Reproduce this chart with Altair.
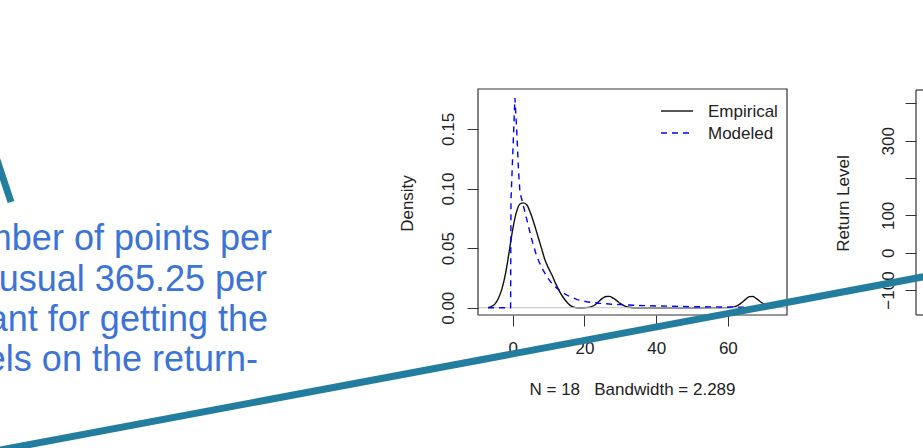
import altair as alt
import pandas as pd

# ---------------- data ----------------
# Empirical kernel density (black, solid)
emp_x = [-6.9, -6, -5, -4, -3, -2, -1, 0, 1, 2, 3, 4, 5, 6, 7, 8, 9, 10, 11, 12,
         13, 14, 15, 16, 17, 18, 20, 21, 22, 23, 24, 25, 26, 27, 28, 29, 30, 31,
         32, 33, 34, 40, 50, 60, 61, 62, 63, 64, 65, 66, 67, 68, 69, 70, 71, 72, 73.3]
emp_y = [0.0, 0.001, 0.003, 0.008, 0.016, 0.029, 0.047, 0.066, 0.080, 0.087,
         0.088, 0.086, 0.079, 0.070, 0.060, 0.050, 0.040, 0.033, 0.027, 0.020,
         0.014, 0.009, 0.005, 0.002, 0.0005, 0.0, 0.0, 0.0003, 0.001, 0.0025,
         0.0052, 0.0078, 0.0094, 0.0095, 0.0080, 0.0060, 0.0036, 0.0018, 0.0007,
         0.0002, 0.0, 0.0, 0.0, 0.0001, 0.0003, 0.001, 0.0024, 0.0046, 0.0072,
         0.0093, 0.0094, 0.0076, 0.0052, 0.0030, 0.0014, 0.0005, 0.0001]

# Modeled density (blue, dashed)
mod_x = [-6.9, -0.6, -0.5, 0.6, 1.1, 1.6, 2.0, 3.0, 4.4, 5.5, 6.7, 8.0, 9.5, 11.0,
         12.3, 14.0, 16.0, 18.0, 20.6, 24.0, 27.0, 30.0, 35.0, 40.0, 50.0, 60.0,
         70.0, 73.3]
mod_y = [0.0, 0.0, 0.090, 0.176, 0.149, 0.115, 0.097, 0.085, 0.068, 0.055, 0.043,
         0.034, 0.026, 0.020, 0.0163, 0.0125, 0.0092, 0.0068, 0.0050, 0.0038,
         0.0031, 0.0026, 0.0019, 0.0015, 0.0009, 0.0006, 0.0004, 0.0003]

x_ticks = [0, 20, 40, 60]
y_ticks = [0.0, 0.05, 0.10, 0.15]
rl_ticks = [-100, 0, 100, 200, 300, 400]
legend_labels = ["Empirical", "Modeled"]
sub_title = "N = 18\u00a0\u00a0\u00a0Bandwidth = 2.289"
density_title = "Density"
rl_title = "Return Level"
note_lines = ["number of points per", "the usual 365.25 per",
              "important for getting the", "levels on the return-"]

# ---------------- styling ----------------
RFONT = "Liberation Sans"
TXT = "#222222"
TEAL = "#227d9f"
NOTE_BLUE = "#3b74d6"

emp_df = pd.DataFrame({"x": emp_x, "y": emp_y})
mod_df = pd.DataFrame({"x": mod_x, "y": mod_y})
one = pd.DataFrame({"a": [0]})


def x_sc():
    return alt.Scale(domain=[-9.7, 76.5], range=[478, 787], nice=False, zero=False)


def y_sc():
    return alt.Scale(domain=[-0.0061, 0.1835], range=[315, 89], nice=False, zero=False)


rl_sc = alt.Scale(domain=[-167, 436], range=[315, 90], nice=False, zero=False)


def x_axis():
    return alt.Axis(values=x_ticks, format="d", orient="bottom", offset=-133,
                    tickSize=11, labelPadding=14, labelBaseline="top",
                    title=sub_title, titleX=632, titleY=83, titleAlign="center",
                    titleBaseline="bottom")


y_axis = alt.Axis(values=y_ticks, format=".2f", orient="left", offset=-478,
                  tickSize=11, labelPadding=19, labelAngle=270, labelAlign="center",
                  labelBaseline="middle", title=density_title, titleAngle=270,
                  titleX=-71, titleY=203, titleAlign="center", titleBaseline="middle")
rl_axis = alt.Axis(values=rl_ticks, orient="left", offset=-916, tickSize=11,
                   labelPadding=17, labelAngle=270, labelAlign="center",
                   labelBaseline="middle",
                   labelExpr="(datum.value == 200 || datum.value == 400) ? '' : datum.label",
                   title=rl_title, titleAngle=270, titleX=-72.5, titleY=203,
                   titleAlign="center", titleBaseline="middle")

emp_line = alt.Chart(emp_df).mark_line(color="#111111", strokeWidth=1.4,
                                       interpolate="monotone").encode(
    x=alt.X("x:Q", scale=x_sc(), axis=x_axis()),
    y=alt.Y("y:Q", scale=y_sc(), axis=y_axis),
)
zero_rule = alt.Chart(pd.DataFrame({"y": [0.0]})).mark_rule(
    color="#bebebe", strokeWidth=1).encode(
    y=alt.Y("y:Q", scale=y_sc(), axis=None), x=alt.value(478), x2=alt.value(787))
mod_line = alt.Chart(mod_df).mark_line(color="#0000ff", strokeWidth=1.4,
                                       strokeDash=[6, 5]).encode(
    x=alt.X("x:Q", scale=x_sc(), axis=x_axis()),
    y=alt.Y("y:Q", scale=y_sc(), axis=None),
)
box = alt.Chart(one).mark_rect(fillOpacity=0, stroke="#333333", strokeWidth=1.2).encode(
    x=alt.value(478), x2=alt.value(787), y=alt.value(89), y2=alt.value(315))

leg_l1 = alt.Chart(one).mark_rule(color="#111111", strokeWidth=1.4).encode(
    x=alt.value(661), x2=alt.value(693), y=alt.value(111))
leg_l2 = alt.Chart(one).mark_rule(color="#0000ff", strokeWidth=1.4, strokeDash=[6, 5]).encode(
    x=alt.value(661), x2=alt.value(693), y=alt.value(133))
leg_t1 = alt.Chart(one).mark_text(align="left", baseline="middle", font=RFONT,
                                  fontSize=17, color=TXT).encode(
    x=alt.value(708), y=alt.value(112), text=alt.value(legend_labels[0]))
leg_t2 = alt.Chart(one).mark_text(align="left", baseline="middle", font=RFONT,
                                  fontSize=17, color=TXT).encode(
    x=alt.value(708), y=alt.value(134), text=alt.value(legend_labels[1]))

# right-hand (return level) panel, mostly outside the window
rl_edge = alt.Chart(pd.DataFrame({"lo": [-167], "hi": [436]})).mark_rule(
    color="#333333", strokeWidth=1.2).encode(
    x=alt.value(916), y=alt.Y("lo:Q", scale=rl_sc, axis=rl_axis), y2="hi:Q")
rl_top = alt.Chart(one).mark_rule(color="#333333", strokeWidth=1.2).encode(
    x=alt.value(916), x2=alt.value(940), y=alt.value(90))
rl_bot = alt.Chart(one).mark_rule(color="#333333", strokeWidth=1.2).encode(
    x=alt.value(916), x2=alt.value(940), y=alt.value(315))

# slide annotation text and connector strokes
note_right = [272, 267, 268, 258]
note_base = [250, 291, 331, 371]
notes = [
    alt.Chart(one).mark_text(align="right", baseline="alphabetic", font=RFONT,
                             fontSize=36, color=NOTE_BLUE).encode(
        x=alt.value(xr), y=alt.value(yb), text=alt.value(t))
    for t, xr, yb in zip(note_lines, note_right, note_base)
]
teal_long = alt.Chart(one).mark_rule(color=TEAL, strokeWidth=7, strokeCap="butt").encode(
    x=alt.value(-5), y=alt.value(451), x2=alt.value(930), y2=alt.value(275.6))
teal_short = alt.Chart(one).mark_rule(color=TEAL, strokeWidth=7, strokeCap="butt").encode(
    x=alt.value(-8), y=alt.value(145), x2=alt.value(11), y2=alt.value(202))

chart = alt.layer(
    emp_line, zero_rule, mod_line, box, leg_l1, leg_l2, leg_t1, leg_t2,
    rl_edge, rl_top, rl_bot, *notes, teal_long, teal_short
).resolve_scale(y="independent").properties(
    width=923, height=448, autosize=alt.AutoSizeParams(type="none"), padding=0,
    background="white",
).configure_view(strokeWidth=0).configure_axis(
    grid=False, domain=False, labelFont=RFONT, labelFontSize=17, labelColor=TXT,
    tickColor="#333333", tickWidth=1, titleFont=RFONT, titleFontSize=17,
    titleFontWeight="normal", titleColor=TXT, labelOverlap=False, labelFlush=False,
)

chart.save("out.html", embed_options={"renderer": "svg", "actions": False})
